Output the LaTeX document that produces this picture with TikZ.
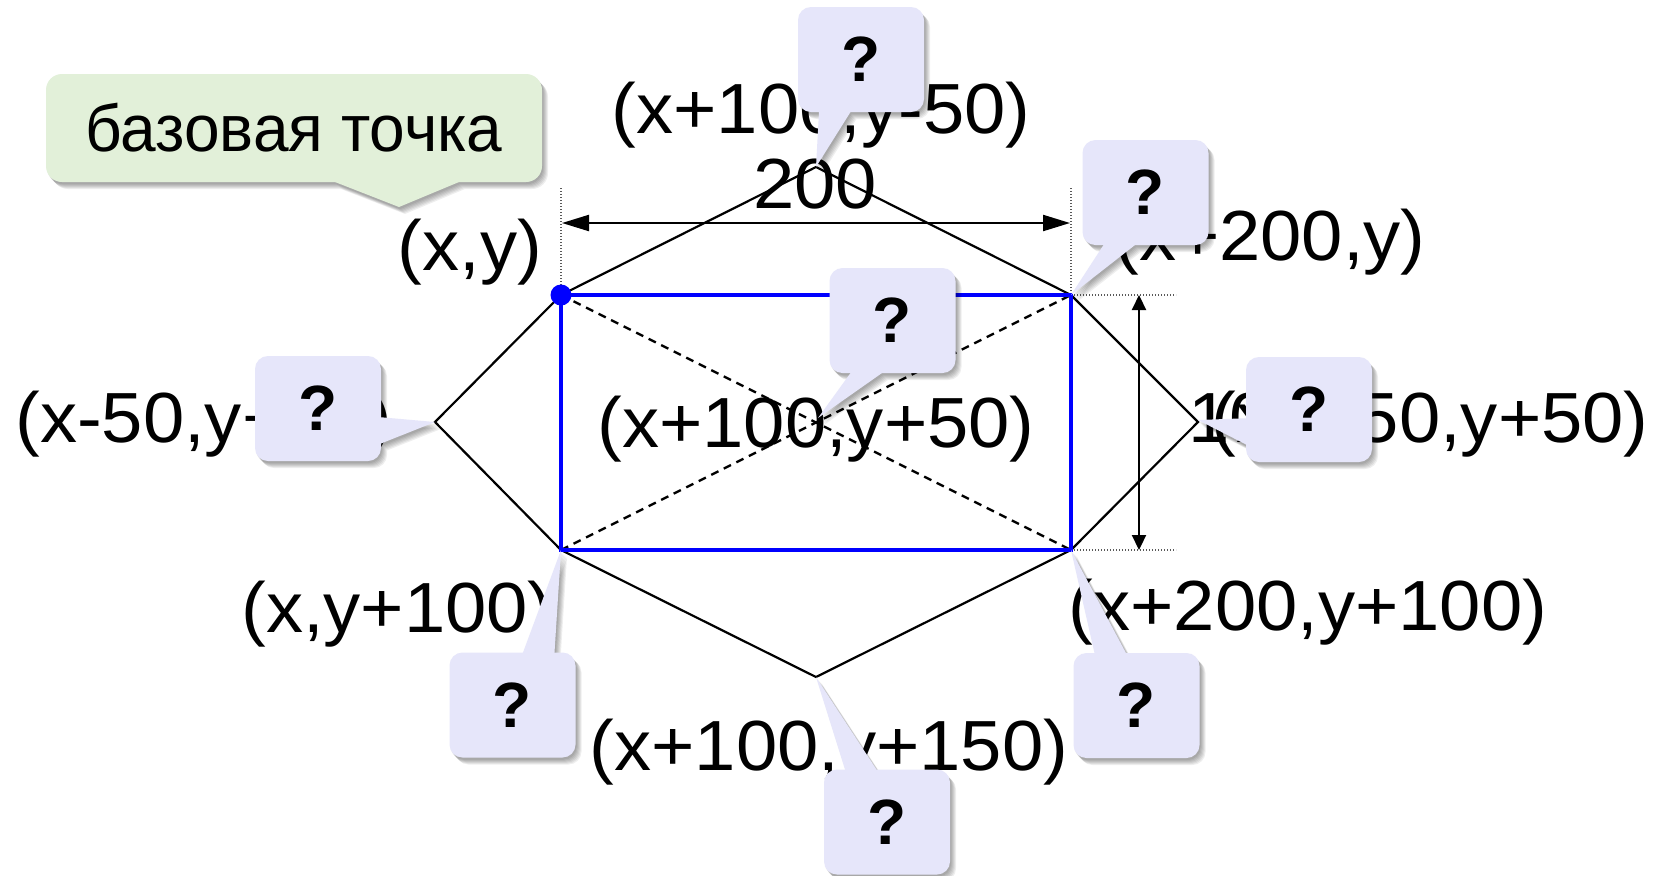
\documentclass[tikz,border=0pt]{standalone}
\usepackage{fontspec}
\setmainfont{Liberation Sans}
\newfontfamily\lblfont[FakeStretch=1.045]{Liberation Sans}
\newfontfamily\grnfont[FakeStretch=0.97]{Liberation Sans}
\usetikzlibrary{arrows.meta,calc}
\definecolor{qfill}{RGB}{230,230,250}
\definecolor{gfill}{RGB}{226,240,217}
\tikzset{
  lbl/.style={inner sep=0pt, font=\lblfont\fontsize{35.5}{42}\selectfont},
  qbox/.style={fill=qfill, rounded corners=6.5pt, minimum width=63pt, minimum height=52.5pt, inner sep=0pt, font=\fontsize{32}{36}\selectfont\bfseries},
  gbox/.style={fill=gfill, rounded corners=8pt, minimum width=248pt, minimum height=54pt, inner sep=0pt, font=\grnfont\fontsize{33}{40}\selectfont},
  hexline/.style={line width=1.1pt, line join=miter},
  bluerect/.style={line width=1.6pt, draw=blue},
  diag/.style={line width=1.2pt, dash pattern=on 4pt off 3pt},
  extline/.style={line width=0.55pt, black!65, dash pattern=on 0.6pt off 0.9pt},
  dimh/.style={line width=1.1pt, {Triangle[length=13.5pt,width=8pt]}-{Triangle[length=13.5pt,width=8pt]}},
  dimv/.style={line width=1.1pt, {Triangle[length=7.5pt,width=7pt]}-{Triangle[length=7.5pt,width=7pt]}},
}
% #1 name, #2 cx, #3 cy, #4 tipx, #5 tipy, #6 ax, #7 ay, #8 bx, #9 by (offsets from centre)
\newcommand{\qcallout}[9]{%
  \foreach \s in {2,3,4,5,6,7}{%
    \fill[black, opacity=0.065]
      [rounded corners=6.5pt] ($(#2,#3)+(-63+\s-1,-52.5+\s)$) rectangle ($(#2,#3)+(63+\s-1,52.5+\s)$)
      [sharp corners] ($(#4,#5)+(\s-1,\s)$) -- ($(#2,#3)+(#6+\s-1,#7+\s)$) -- ($(#2,#3)+(#8+\s-1,#9+\s)$) -- cycle;
  }%
  \fill[qfill] (#4,#5) -- ($(#2,#3)+(#6,#7)$) -- (#2,#3) -- ($(#2,#3)+(#8,#9)$) -- cycle;
  \node[qbox] (#1) at (#2,#3) {?};
}
\begin{document}
\begin{tikzpicture}[x=0.5pt,y=-0.5pt]
\useasboundingbox (0,0) rectangle (1667,875);
\fill[white] (0,0) rectangle (1667,875);

% key points
\coordinate (TL) at (561,295);
\coordinate (TR) at (1071,295);
\coordinate (BL) at (561,550);
\coordinate (BR) at (1071,550);
\coordinate (T) at (816,167);
\coordinate (R) at (1198,422);
\coordinate (B) at (816,677);
\coordinate (L) at (435,422);
\coordinate (C) at (818,418);

% extension lines
\coordinate (e1) at (561,188);
\coordinate (e2) at (1071,188);
\coordinate (e3) at (1176,295);
\coordinate (e4) at (1176,550);
\draw[extline] (e1) -- (TL);
\draw[extline] (e2) -- (TR);
\draw[extline] (TR) -- (e3);
\draw[extline] (BR) -- (e4);

% dimension arrows
\coordinate (hA) at (562,223);
\coordinate (hB) at (1070,223);
\coordinate (vA) at (1139,295);
\coordinate (vB) at (1139,550);
\draw[dimh] (hA) -- (hB);
\draw[dimv] (vA) -- (vB);

% polygon, diagonals, rectangle
\draw[hexline] (L) -- (TL) -- (T) -- (TR) -- (R) -- (BR) -- (B) -- (BL) -- cycle;
\draw[diag] (TL) -- (BR);
\draw[diag] (BL) -- (TR);
\draw[bluerect] (TL) rectangle (BR);
\node[circle, fill=blue, inner sep=0pt, minimum size=10.5pt] (base) at (TL) {};

% labels
\node[lbl] (lxy) at (470,252) {(x,y)};
\node[lbl] (ltop) at (821,115) {(x+100,y-50)};
\node[lbl] (l200) at (815,184) {200};
\node[lbl] (ltr) at (1270,242) {(x+200,y)};
\node[lbl] (lleft) at (204,424) {(x-50,y+50)};
\node[lbl] (lc) at (816,429) {(x+100,y+50)};
\node[lbl] (l100) at (1250,418) {100};
\node[lbl] (lright) at (1430,424) {(x+250,y+50)};
\node[lbl] (lbl1) at (397,614) {(x,y+100)};
\node[lbl] (lbr) at (1308,612) {(x+200,y+100)};
\node[lbl] (lbot) at (829,752) {(x+100,y+150)};

% base point callout
\foreach \s in {2,3,4,5,6,7}{%
  \fill[black, opacity=0.065]
    [rounded corners=8pt] ($(46+\s-1,74+\s)$) rectangle ($(542+\s-1,182+\s)$)
    [sharp corners] ($(399,207)+(\s-1,\s)$) -- ($(335,182)+(\s-1,\s)$) -- ($(459,182)+(\s-1,\s)$) -- cycle;
}
\coordinate (gtip) at (399,207);
\fill[gfill] (gtip) -- (335,182) -- (294,128) -- (459,182) -- cycle;
\node[gbox] (gl) at (294,128) {базовая точка};

% question callouts
\qcallout{qtop}{861}{59.5}{816}{167}{-42}{52.5}{-10.5}{52.5}
\qcallout{qtr}{1145.5}{192.5}{1071}{295}{-42}{52.5}{-10.5}{52.5}
\qcallout{qc}{892.5}{320.5}{818}{418}{-42}{52.5}{-10.5}{52.5}
\qcallout{qleft}{318}{408.5}{435}{422}{63}{8.75}{63}{35}
\qcallout{qright}{1309}{409.5}{1198}{420}{-63}{8.75}{-63}{35}
\qcallout{qbl}{512.5}{705}{561}{550}{10.5}{-52.5}{42}{-52.5}
\qcallout{qbr}{1136.5}{705.5}{1071}{550}{-42}{-52.5}{-10.5}{-52.5}
\qcallout{qbot}{887}{822}{816}{677}{-42}{-52.5}{-10.5}{-52.5}
\end{tikzpicture}
\end{document}
